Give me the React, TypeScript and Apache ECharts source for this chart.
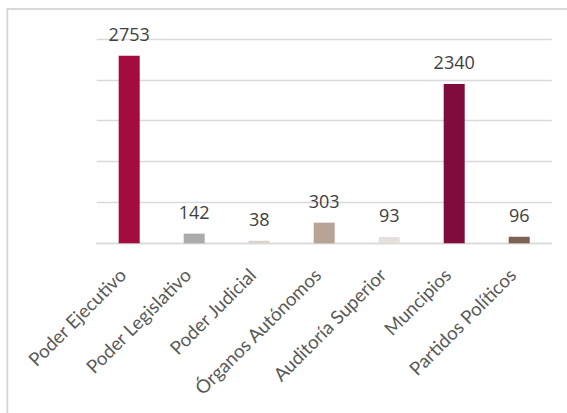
import React, { useEffect, useRef } from "react";
import * as echarts from "echarts";

const categories = [
  "Poder Ejecutivo",
  "Poder Legislativo",
  "Poder Judicial",
  "Órganos Autónomos",
  "Auditoría Superior",
  "Muncipios",
  "Partidos Políticos",
];
const values = [2753, 142, 38, 303, 93, 2340, 96];
const barColors = ["#A40B3E", "#ABABAB", "#DDD3CE", "#B8A496", "#E5E0DD", "#7F0C3C", "#7B6252"];

export default function App() {
  const ref = useRef<HTMLDivElement>(null);
  useEffect(() => {
    if (!ref.current) return;
    const chart = echarts.init(ref.current, undefined, { renderer: "svg" });
    chart.setOption({
      animation: false,
      backgroundColor: "#ffffff",
      textStyle: { fontFamily: "Lato" },
      graphic: [
        {
          type: "rect",
          shape: { x: 7.3, y: 9, width: 700, height: 500 },
          style: { fill: "none", stroke: "#D9D9D9", lineWidth: 2 },
          silent: true,
        },
      ],
      grid: { left: 96.7, right: 15.3, top: 39, bottom: 169.7, containLabel: false },
      xAxis: {
        type: "category",
        data: categories,
        axisLine: { lineStyle: { color: "#D9D9D9", width: 1.3 } },
        axisTick: { show: false },
        axisLabel: {
          rotate: 45,
          interval: 0,
          color: "#595959",
          fontSize: 18.7,
          margin: 35,
          align: "right",
          verticalAlign: "bottom",
          fontFamily: "Lato",
        },
      },
      yAxis: {
        type: "value",
        min: 0,
        max: 3000,
        interval: 600,
        axisLabel: { show: false },
        axisLine: { show: false },
        axisTick: { show: false },
        splitLine: { lineStyle: { color: "#D9D9D9", width: 1.3 } },
      },
      series: [
        {
          type: "bar",
          barWidth: 21,
          data: values.map((v, i) => ({ value: v, itemStyle: { color: barColors[i] } })),
          label: {
            show: true,
            position: "top",
            distance: 13,
            color: "#404040",
            fontSize: 18,
            fontFamily: "Open Sans",
          },
        },
      ],
    });
    return () => chart.dispose();
  }, []);
  return (
    <div
      ref={ref}
      style={{ position: "fixed", left: 0, top: 0, width: 567, height: 413 }}
    />
  );
}
